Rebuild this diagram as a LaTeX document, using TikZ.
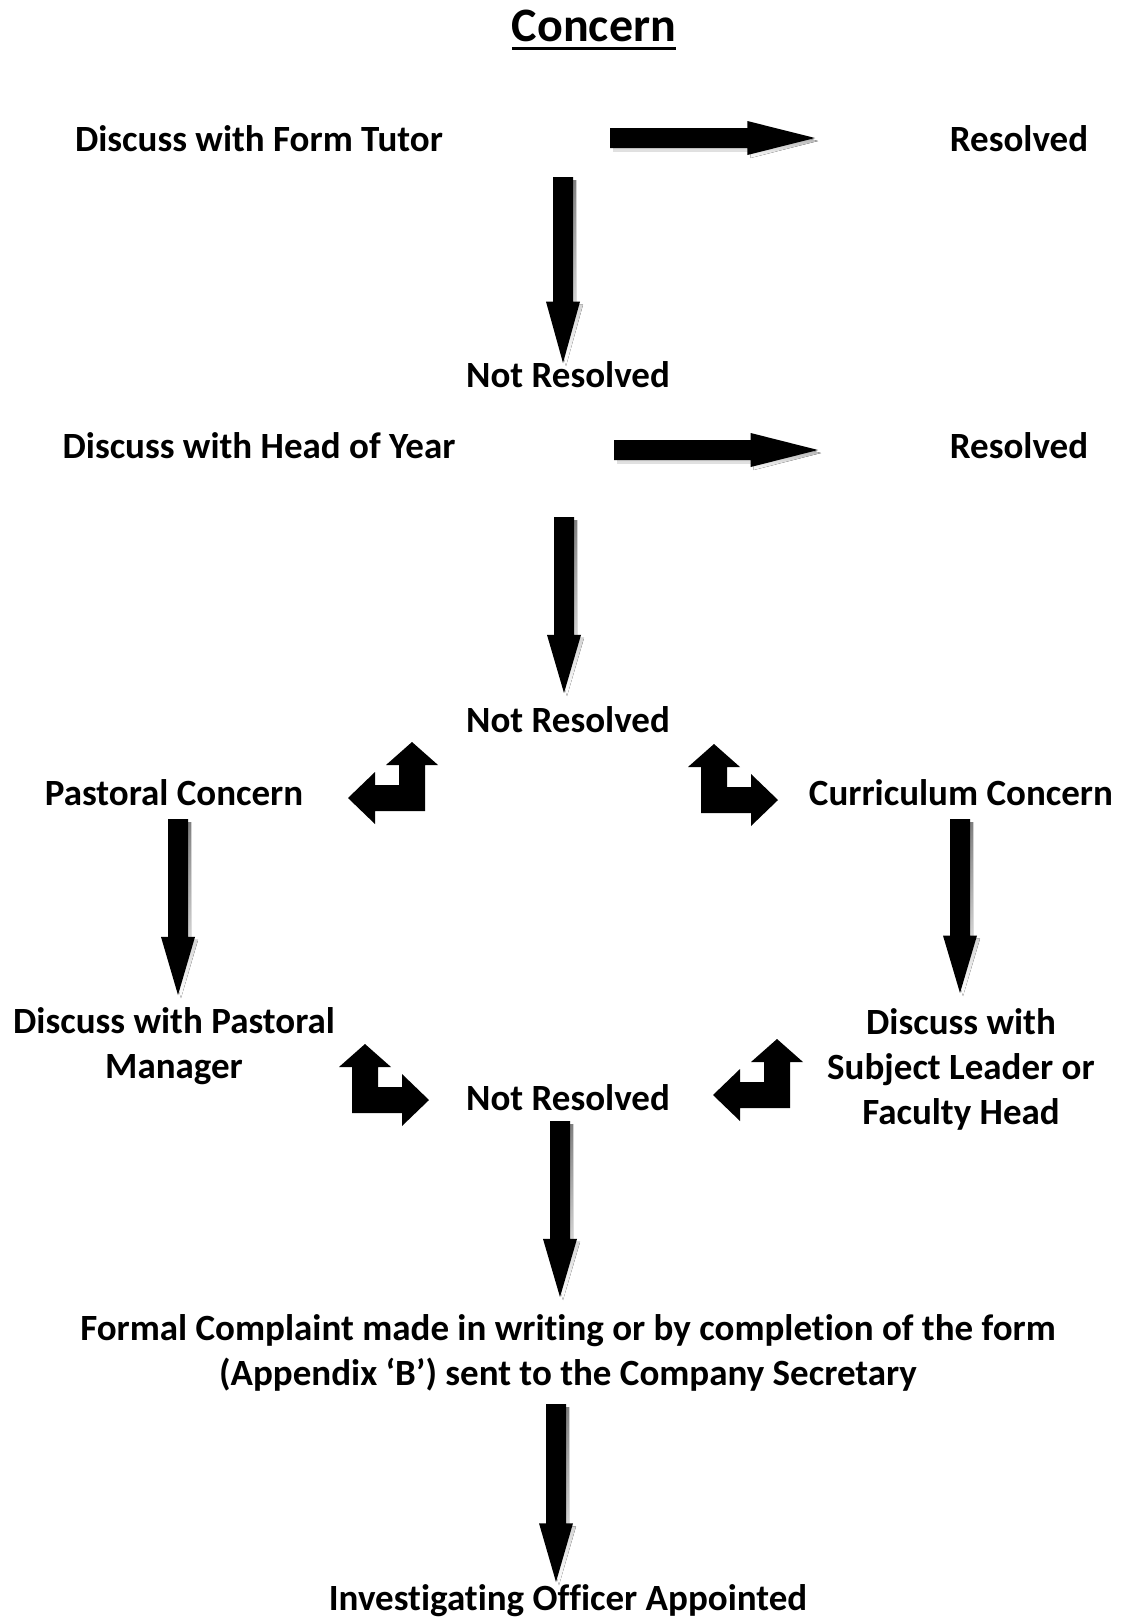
\documentclass[tikz,border=0pt]{standalone}
\usepackage{fontspec}
\setmainfont{Carlito}[RawFeature={-liga;-clig;-calt;-dlig}]
\definecolor{shade}{RGB}{196,196,196}
\tikzset{
  lbl/.style={font=\fontsize{37}{45}\selectfont\bfseries, align=center, anchor=base, inner sep=0pt},
}
% straight block arrow: tail point, angle, length
\def\blockarrow#1#2#3{
\begin{scope}[xshift=3pt, yshift=-3pt, shift={#1}, rotate=#2]
    \fill[shade] (0,-10) -- ({#3*0.67},-10) -- ({#3*0.67},-17) -- (#3,0)
      -- ({#3*0.67},17) -- ({#3*0.67},10) -- (0,10) -- cycle;
\end{scope}
\begin{scope}[shift={#1}, rotate=#2]
    \fill (0,-10) -- ({#3*0.67},-10) -- ({#3*0.67},-17) -- (#3,0)
      -- ({#3*0.67},17) -- ({#3*0.67},10) -- (0,10) -- cycle;
\end{scope}
}
% bent double arrow: outer corner, mirror
\def\bentarrow#1#2{
\begin{scope}[shift={#1}, xscale=#2]
    \fill (-13,-69) -- (13,-46) -- (0,-46) -- (0,0) -- (-50,0) -- (-50,13)
      -- (-77,-13) -- (-50,-39) -- (-50,-26) -- (-26,-26) -- (-26,-46)
      -- (-39,-46) -- cycle;
\end{scope}
}

\begin{document}
\begin{tikzpicture}[x=1pt, y=-1pt]
    \useasboundingbox (0,0) rectangle (1121,1618);
    \node[lbl] (title) at (594,41) {\fontsize{48}{56}\selectfont Concern};
    \draw[line width=3pt] ([yshift=-7pt]title.base west) -- ([yshift=-7pt]title.base east);

    \node[lbl] (tutor) at (259,151) {Discuss with Form Tutor};
    \node[lbl] (res1) at (1019,151) {Resolved};
    \node[lbl] (nr1) at (568,387) {Not Resolved};
    \node[lbl] (hoy) at (259,458) {Discuss with Head of Year};
    \node[lbl] (res2) at (1019,458) {Resolved};
    \node[lbl] (nr2) at (568,732) {Not Resolved};
    \node[lbl] (past) at (174,805) {Pastoral Concern};
    \node[lbl] (curr) at (961,805) {Curriculum Concern};
    \node[lbl] (pm) at (174,1078) {Discuss with Pastoral\\Manager};
    \node[lbl] (sl) at (961,1124) {Discuss with\\Subject Leader or\\Faculty Head};
    \node[lbl] (nr3) at (568,1110) {Not Resolved};
    \node[lbl] (formal) at (568,1385) {Formal Complaint made in writing or by completion of the form\\(Appendix ‘B’) sent to the Company Secretary};
    \node[lbl] (officer) at (568,1610) {Investigating Officer Appointed};

    \blockarrow{(610,138)}{0}{205};
    \blockarrow{(614,450)}{0}{204};
    \blockarrow{(563,177)}{-90}{186};
    \blockarrow{(564,517)}{-90}{176};
    \blockarrow{(178,819)}{-90}{176};
    \blockarrow{(960,819)}{-90}{174};
    \blockarrow{(560,1121)}{-90}{176};
    \blockarrow{(556,1404)}{-90}{178};

    \bentarrow{(425,811)}{1};
    \bentarrow{(701,813)}{-1};
    \bentarrow{(352,1113)}{-1};
    \bentarrow{(790,1108)}{1};
  \end{tikzpicture}
\end{document}
